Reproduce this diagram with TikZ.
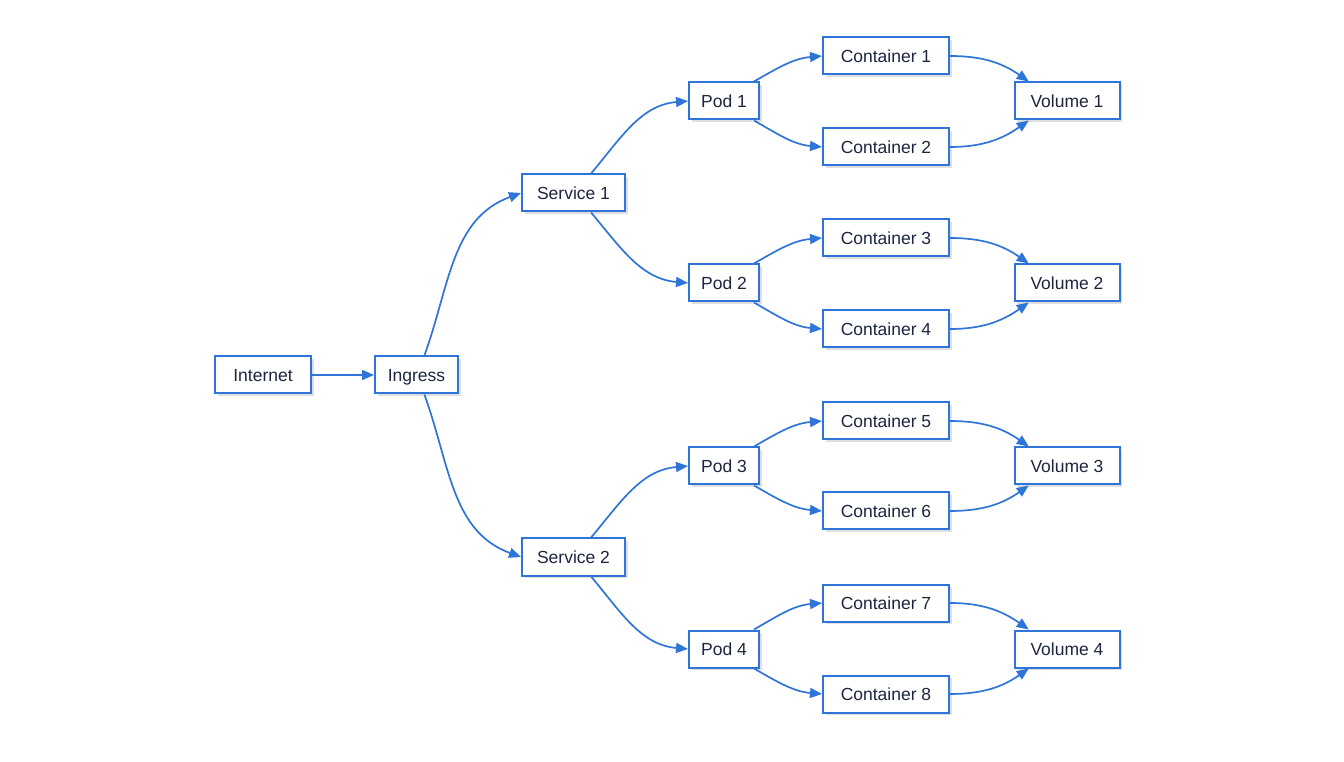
\documentclass[tikz,border=0pt]{standalone}
\usepackage{fontspec}
\setmainfont{Liberation Sans}
\definecolor{kubeBlue}{RGB}{47,117,215}
\definecolor{kubeText}{RGB}{28,38,64}
\usetikzlibrary{arrows.meta, shadows}

\begin{document}
\begin{tikzpicture}[x=1pt, y=1pt,
    block/.style={draw=kubeBlue, line width=2pt, fill=white, minimum height=37pt,
                  inner sep=0pt, text height=12.5pt, text depth=0pt, text=kubeText,
                  font=\fontsize{17.5}{20}\selectfont,
                  drop shadow={shadow xshift=2.5pt, shadow yshift=-2.5pt, opacity=0.25}},
    arr/.style={-{Triangle[length=12pt,width=10pt]}, line width=1.7pt, kubeBlue}
  ]
    \useasboundingbox (0,0) rectangle (1344,761);

    \node[block, minimum width=96pt] (internet) at (263,386) {Internet};
    \node[block, minimum width=83pt] (ingress) at (416.5,386) {Ingress};

    \node[block, minimum width=103pt] (svc1) at (573.5,568) {Service 1};
    \node[block, minimum width=103pt] (svc2) at (573.5,204) {Service 2};

    \node[block, minimum width=70pt] (pod1) at (724,660) {Pod 1};
    \node[block, minimum width=70pt] (pod2) at (724,478) {Pod 2};
    \node[block, minimum width=70pt] (pod3) at (724,295) {Pod 3};
    \node[block, minimum width=70pt] (pod4) at (724,112) {Pod 4};

    \node[block, minimum width=126pt] (ctr1) at (886,705) {Container 1};
    \node[block, minimum width=126pt] (ctr2) at (886,614) {Container 2};
    \node[block, minimum width=126pt] (ctr3) at (886,523) {Container 3};
    \node[block, minimum width=126pt] (ctr4) at (886,432) {Container 4};
    \node[block, minimum width=126pt] (ctr5) at (886,340) {Container 5};
    \node[block, minimum width=126pt] (ctr6) at (886,250) {Container 6};
    \node[block, minimum width=126pt] (ctr7) at (886,158) {Container 7};
    \node[block, minimum width=126pt] (ctr8) at (886,67) {Container 8};

    \node[block, minimum width=105pt] (vol1) at (1067,660) {Volume 1};
    \node[block, minimum width=105pt] (vol2) at (1067,478) {Volume 2};
    \node[block, minimum width=105pt] (vol3) at (1067,295) {Volume 3};
    \node[block, minimum width=105pt] (vol4) at (1067,112) {Volume 4};

    \draw[arr] (internet) -- (ingress);
    \draw[arr] (ingress.68) to[out=70, in=200] (svc1.west);
    \draw[arr] (ingress.-68) to[out=-70, in=160] (svc2.west);

    \draw[arr] (svc1.48) to[out=50, in=185] (pod1.west);
    \draw[arr] (svc1.-48) to[out=-50, in=175] (pod2.west);
    \draw[arr] (svc2.48) to[out=50, in=185] (pod3.west);
    \draw[arr] (svc2.-48) to[out=-50, in=175] (pod4.west);

    \draw[arr] (pod1.33) to[out=30, in=185] (ctr1.west);
    \draw[arr] (pod1.-33) to[out=-30, in=175] (ctr2.west);
    \draw[arr] (pod2.33) to[out=30, in=185] (ctr3.west);
    \draw[arr] (pod2.-33) to[out=-30, in=175] (ctr4.west);
    \draw[arr] (pod3.33) to[out=30, in=185] (ctr5.west);
    \draw[arr] (pod3.-33) to[out=-30, in=175] (ctr6.west);
    \draw[arr] (pod4.33) to[out=30, in=185] (ctr7.west);
    \draw[arr] (pod4.-33) to[out=-30, in=175] (ctr8.west);

    \draw[arr] (ctr1.east) to[out=0, in=145] (vol1.153);
    \draw[arr] (ctr2.east) to[out=0, in=215] (vol1.207);
    \draw[arr] (ctr3.east) to[out=0, in=145] (vol2.153);
    \draw[arr] (ctr4.east) to[out=0, in=215] (vol2.207);
    \draw[arr] (ctr5.east) to[out=0, in=145] (vol3.153);
    \draw[arr] (ctr6.east) to[out=0, in=215] (vol3.207);
    \draw[arr] (ctr7.east) to[out=0, in=145] (vol4.153);
    \draw[arr] (ctr8.east) to[out=0, in=215] (vol4.207);
  \end{tikzpicture}
\end{document}
